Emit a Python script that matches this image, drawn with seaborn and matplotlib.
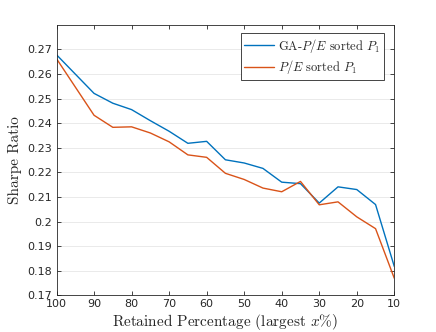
import numpy as np
import pandas as pd
import matplotlib
matplotlib.use('Agg')
import matplotlib.pyplot as plt
import seaborn as sns

retained = [100, 90, 85, 80, 75, 70, 65, 60, 55, 50, 45, 40, 35, 30, 25, 20, 15, 10]
ga_pe = [0.2678, 0.2521, 0.2481, 0.2455, 0.2410, 0.2367, 0.2318, 0.2326, 0.2251, 0.2238,
         0.2216, 0.2160, 0.2154, 0.2075, 0.2141, 0.2130, 0.2069, 0.1817]
pe = [0.2662, 0.2432, 0.2383, 0.2385, 0.2360, 0.2324, 0.2271, 0.2261, 0.2196, 0.2171,
      0.2136, 0.2121, 0.2163, 0.2068, 0.2080, 0.2019, 0.1971, 0.1769]
labels = [r'GA-$P/E$ sorted $P_1$', r'$P/E$ sorted $P_1$']
y_ticks = [0.17, 0.18, 0.19, 0.2, 0.21, 0.22, 0.23, 0.24, 0.25, 0.26, 0.27]
y_tick_labels = ['0.17', '0.18', '0.19', '0.2', '0.21', '0.22', '0.23', '0.24', '0.25', '0.26', '0.27']
x_ticks = [100, 90, 80, 70, 60, 50, 40, 30, 20, 10]

df = pd.DataFrame({
    'x': retained * 2,
    'y': ga_pe + pe,
    'series': [labels[0]] * len(retained) + [labels[1]] * len(retained),
})

sns.set_style('ticks')
plt.rcParams['mathtext.fontset'] = 'cm'
plt.rcParams['xtick.direction'] = 'in'
plt.rcParams['ytick.direction'] = 'in'

fig = plt.figure(figsize=(4.36, 3.32), dpi=100)
ax = fig.add_axes([0.1296, 0.1105, 0.7748, 0.8142])

sns.lineplot(data=df, x='x', y='y', hue='series', palette=['#0072BD', '#D95319'],
             linewidth=1.0, ax=ax, sort=False, legend=True)

ax.set_xlim(100, 10)
ax.set_ylim(0.17, 0.2799)
ax.set_xticks(x_ticks)
ax.set_xticklabels([str(t) for t in x_ticks])
ax.set_yticks(y_ticks)
ax.set_yticklabels(y_tick_labels)
ax.yaxis.grid(True, color='#e6e6e6', linewidth=0.6)
ax.set_axisbelow(True)
ax.tick_params(top=True, right=True, length=3, width=0.6, labelsize=8,
               colors='#262626', labelcolor='#262626', pad=3)
for s in ax.spines.values():
    s.set_color('#262626')
    s.set_linewidth(0.6)
for t in ax.get_xticklabels() + ax.get_yticklabels():
    t.set_fontfamily('DejaVu Sans')

ax.set_xlabel(r'Retained Percentage (largest $x$%)', fontfamily='cmr10', fontsize=11, labelpad=2)
ax.set_ylabel('Sharpe Ratio', fontfamily='cmr10', fontsize=11, labelpad=4)

leg = ax.legend(loc='upper right', bbox_to_anchor=(0.97, 0.97), frameon=True, fancybox=False,
                edgecolor='#262626', framealpha=1, handlelength=2.4, borderpad=0.3,
                labelspacing=0.25, handletextpad=0.3, borderaxespad=0.0,
                prop={'family': 'cmr10', 'size': 9})
leg.get_frame().set_linewidth(0.6)

fig.savefig('out.png', dpi=100)
